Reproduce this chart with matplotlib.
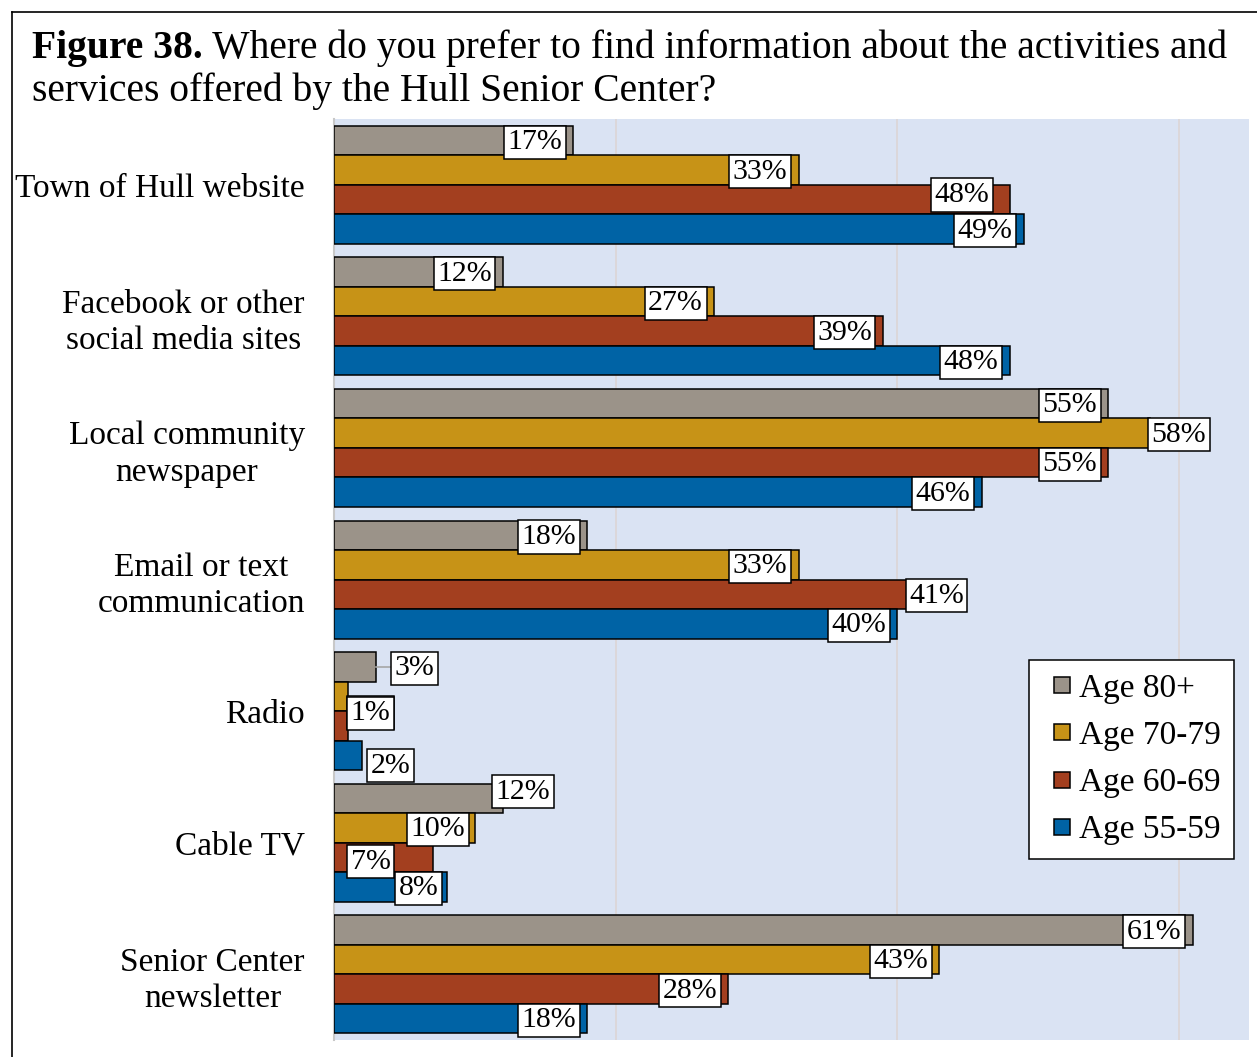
import matplotlib
import numpy as np

matplotlib.use("Agg")
import matplotlib.pyplot as plt  # noqa: E402
from matplotlib.lines import Line2D  # noqa: E402

plt.rcParams["font.family"] = ["Liberation Serif", "DejaVu Serif"]

CATEGORIES = ["Town of Hull website", "Facebook or other\nsocial media sites",
              "Local community\nnewspaper", "Email or text\ncommunication",
              "Radio", "Cable TV", "Senior Center\nnewsletter"]
SERIES = ["Age 80+", "Age 70-79", "Age 60-69", "Age 55-59"]
AGE_80_PLUS = [17, 12, 55, 18, 3, 12, 61]
AGE_70_79 = [33, 27, 58, 33, 1, 10, 43]
AGE_60_69 = [48, 39, 55, 41, 1, 7, 28]
AGE_55_59 = [49, 48, 46, 40, 2, 8, 18]
COLORS = ["#9B9389", "#C79317", "#A33F1F", "#0063A5"]

# labels that were dragged by hand in the original:
# (category, series) -> (box centre in %, vertical shift in px)
LABEL_MOVES = {
    (0, 2): (44.6, -6),
    (2, 1): (60.0, 0),
    (3, 2): (42.8, 0),
    (4, 0): (5.7, 0),
    (4, 1): (2.6, 15),
    (4, 2): (2.6, -14),
    (4, 3): (4.0, 9),
    (5, 0): (13.4, -8),
    (5, 1): (7.4, 0),
    (5, 2): (2.6, 3),
    (5, 3): (6.0, 0),
}

W, H = 1257, 1057
fig = plt.figure(figsize=(W / 100, H / 100), dpi=100)
ax = fig.add_axes([334 / W, 1 - 1040 / H, (1249 - 334) / W, (1040 - 119) / H])
ax.set_facecolor("#DAE3F3")

values = [AGE_80_PLUS, AGE_70_79, AGE_60_69, AGE_55_59]
y = np.arange(len(CATEGORIES))
px_per_cat = (1040 - 119) / len(CATEGORIES)
bh = 29.5 / px_per_cat
handles = []
for s, (name, vals, col) in enumerate(zip(SERIES, values, COLORS)):
    yy = y + (s - 1.5) * bh
    ax.barh(yy, vals, height=bh, color=col, edgecolor="black", linewidth=1.1,
            zorder=3)
    handles.append(Line2D([], [], ls="none", marker="s", ms=12, mfc=col,
                          mec="black", mew=1.1, label=name))
    for i, v in enumerate(vals):
        box = dict(boxstyle="square,pad=0.12", fc="white", ec="black", lw=1.1)
        if (i, s) in LABEL_MOVES:
            xc, dy = LABEL_MOVES[(i, s)]
            ax.text(xc, yy[i] + (dy + 1.5) / px_per_cat, f"{v}%", ha="center",
                    va="center", fontsize=21.5, bbox=box, zorder=5)
        else:
            ax.annotate(f"{v}%", xy=(v, yy[i]), xytext=(-8, -1.2),
                        textcoords="offset points", ha="right", va="center",
                        fontsize=21.5, bbox=box, zorder=5)

# leader line for the Radio 80+ label
ax.plot([AGE_80_PLUS[4], 4.1], [4 - 1.5 * bh] * 2, color="#A6A6A6", lw=1.2, zorder=4)

ax.set_xlim(0, 65)
ax.set_ylim(len(CATEGORIES) - 0.5, -0.5)
ax.set_xticks([20, 40, 60])
ax.set_xticklabels([])
ax.grid(axis="x", color="#DCD6D8", lw=1.3, zorder=0)
ax.tick_params(length=0, pad=21)
ax.set_yticks(y)
ax.set_yticklabels(CATEGORIES, fontsize=24, multialignment="center", linespacing=1.25)
for sp in ["top", "right", "bottom"]:
    ax.spines[sp].set_visible(False)
ax.spines["left"].set_color("#C8C8C8")
ax.spines["left"].set_linewidth(1.5)

leg = ax.legend(handles=handles, loc="upper left",
                bbox_to_anchor=(1029 / W, 1 - 660 / H),
                bbox_transform=fig.transFigure, fontsize=24, frameon=True,
                fancybox=False, edgecolor="black", framealpha=1,
                handlelength=1.2, handletextpad=-0.1,
                labelspacing=0.5, borderpad=0.4, borderaxespad=0)
leg.get_frame().set_linewidth(1.1)

# title: bold "Figure 38." followed by regular text
t1 = fig.text(32 / W, 1 - 58 / H, "Figure 38.", fontsize=28.5, fontweight="bold",
              va="baseline")
ax.annotate(" Where do you prefer to find information about the activities and",
            xy=(1, 0), xycoords=t1, fontsize=28.5, va="bottom", ha="left",
            annotation_clip=False)
fig.text(32 / W, 1 - 101 / H, "services offered by the Hull Senior Center?",
         fontsize=28.5, va="baseline")

# frame around the figure
fig.add_artist(Line2D([12 / W, 1], [1 - 12 / H] * 2, color="black", lw=1.2))
fig.add_artist(Line2D([12 / W] * 2, [0, 1 - 12 / H], color="black", lw=1.2))

fig.savefig("out.png", dpi=100)
